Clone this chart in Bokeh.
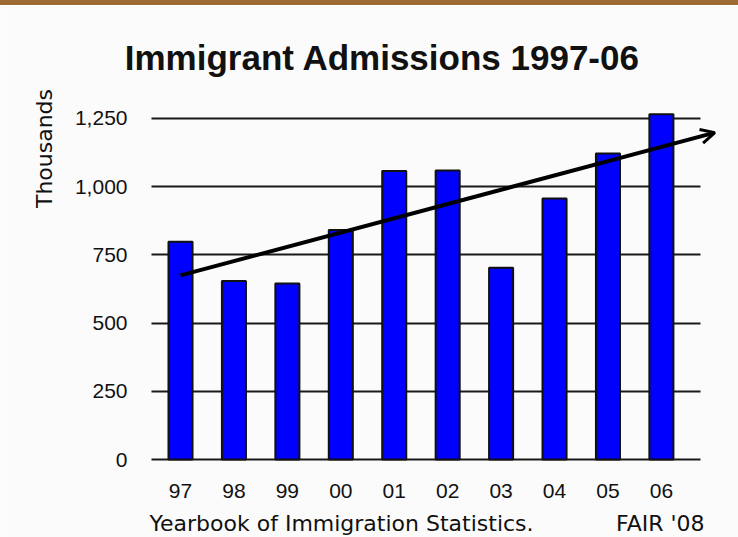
import numpy as np
from bokeh.plotting import figure
from bokeh.models import (Range1d, FixedTicker, NumeralTickFormatter, Label,
                          Arrow, OpenHead, Div, ColumnDataSource)
from bokeh.layouts import column
from bokeh.embed import file_html
from bokeh.resources import INLINE

# ---- data ----
years = ["97", "98", "99", "00", "01", "02", "03", "04", "05", "06"]
admissions = [798, 654, 645, 841, 1058, 1059, 703, 957, 1122, 1266]  # thousands
y_ticks = [0, 250, 500, 750, 1000, 1250]
title_text = "Immigrant Admissions 1997-06"
y_label = "Thousands"
source_text = "Yearbook of Immigration Statistics."
credit_text = "FAIR '08"

FONT = "Liberation Sans"
WIDE = "DejaVu Sans"
BG = "#FBFBFB"
INK = "#111111"

idx = list(range(len(years)))
src = ColumnDataSource(dict(x=idx, top=admissions))

# frame covers the whole canvas; axes are pinned inside it
p = figure(width=738, height=532, output_backend="svg", toolbar_location=None,
           x_range=Range1d(-3.369, 10.443), y_range=Range1d(-285.9, 1664.2),
           min_border=0)
p.background_fill_color = BG
p.border_fill_color = BG
p.outline_line_color = None

p.xgrid.grid_line_color = None
p.ygrid.grid_line_color = "#1a1a1a"
p.ygrid.grid_line_width = 2
p.ygrid.cross_bounds = (-0.543, 9.73)
p.ygrid.bounds = (0, 1250)

# y axis
p.yaxis.fixed_location = -0.543
p.yaxis.ticker = FixedTicker(ticks=y_ticks)
p.yaxis.formatter = NumeralTickFormatter(format="0,0")
p.yaxis.axis_line_color = None
p.yaxis.major_tick_line_color = None
p.yaxis.minor_tick_line_color = None
p.yaxis.major_label_standoff = 18
p.yaxis.major_label_text_font = FONT
p.yaxis.major_label_text_font_size = "21px"
p.yaxis.major_label_text_color = INK

# x axis
p.xaxis.fixed_location = 0
p.xaxis.ticker = FixedTicker(ticks=idx)
p.xaxis.major_label_overrides = {i: y for i, y in zip(idx, years)}
p.xaxis.axis_line_color = None
p.xaxis.major_tick_line_color = None
p.xaxis.minor_tick_line_color = None
p.xaxis.major_label_standoff = 18
p.xaxis.major_label_text_font = FONT
p.xaxis.major_label_text_font_size = "21px"
p.xaxis.major_label_text_color = INK

# bars
p.vbar(x="x", top="top", width=0.45, source=src, fill_color="#0000FF",
       line_color=INK, line_width=2)

# trend arrow (least-squares fit of the data)
slope, intercept = np.polyfit(idx, admissions, 1)
x_end = len(years)
p.add_layout(Arrow(x_start=0, y_start=intercept, x_end=x_end,
                   y_end=intercept + slope * x_end,
                   line_color="black", line_width=4,
                   end=OpenHead(size=14, line_width=3, line_color="black")))

# texts (screen units: from the canvas left / bottom)
p.add_layout(Label(x=382, y=480, x_units="screen", y_units="screen", text=title_text,
                   text_font=FONT, text_font_size="35px", text_font_style="bold",
                   text_align="center", text_baseline="alphabetic", text_color=INK))
p.add_layout(Label(x=44, y=389, x_units="screen", y_units="screen", text=y_label,
                   angle=np.pi / 2, text_font=WIDE, text_font_size="22px",
                   text_align="center", text_baseline="middle", text_color=INK))
p.add_layout(Label(x=149, y=14, x_units="screen", y_units="screen", text=source_text,
                   text_font=WIDE, text_font_size="22px", text_align="left",
                   text_baseline="alphabetic", text_color=INK))
p.add_layout(Label(x=704, y=14, x_units="screen", y_units="screen", text=credit_text,
                   text_font=WIDE, text_font_size="22px", text_align="right",
                   text_baseline="alphabetic", text_color=INK))

band = Div(text="", width=738, height=5,
           styles={"background-color": "#9E6A34", "margin": "0", "padding": "0"})

layout = column(band, p, spacing=0)
open("out.html", "w").write(file_html(layout, INLINE))
